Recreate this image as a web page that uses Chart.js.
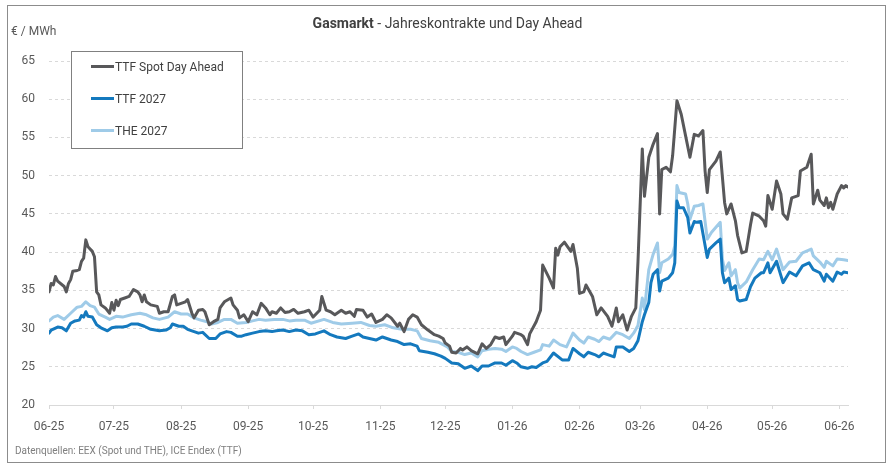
<!DOCTYPE html>
<html lang="de">
<head>
<meta charset="utf-8">
<title>Gasmarkt - Jahreskontrakte und Day Ahead</title>
<script src="https://cdn.jsdelivr.net/npm/chart.js@4.4.1/dist/chart.umd.min.js"></script>
<style>
    html, body { margin: 0; padding: 0; background: #fff; }
    body { width: 889px; height: 466px; position: relative; overflow: hidden; font-family: Roboto, "Noto Sans", sans-serif; }
    #chartWrap { position: absolute; left: 0; top: 0; width: 889px; height: 466px; }
    .frame { position: absolute; left: 7px; top: 5px; width: 877px; height: 456px; border: 1px solid #8c8c8c; pointer-events: none; }
    .title { position: absolute; left: 3px; width: 889px; top: 15px; text-align: center; font-size: 14px; color: #404040; }
    .title b { font-weight: 700; }
    .unit { position: absolute; left: 11px; top: 24px; font-size: 12px; color: #595959; }
    .legend { position: absolute; left: 71px; top: 51px; width: 170px; height: 96px; border: 1px solid #808080; background: #fff; }
    .legend .item { position: absolute; left: 19px; font-size: 12px; color: #404040; white-space: nowrap; line-height: 14px; }
    .legend .swatch { display: inline-block; width: 23px; height: 3px; vertical-align: middle; margin-right: 1px; position: relative; top: -1px; }
    .source { position: absolute; left: 15px; top: 445px; font-size: 10px; color: #7f7f7f; white-space: nowrap; }
</style>
</head>
<body>
<div id="chartWrap"><canvas id="gasChart" width="889" height="466"></canvas></div>
<div class="frame"></div>
<div class="title"><b>Gasmarkt</b> - Jahreskontrakte und Day Ahead</div>
<div class="unit">€ / MWh</div>
<div class="legend" id="legend"></div>
<div class="source">Datenquellen: EEX (Spot und THE), ICE Endex (TTF)</div>

<script>
// Gasmarkt chart: TTF Spot Day Ahead, TTF 2027, THE 2027
// x values are days since 2025-06-01

const tickDays = [0, 30, 61, 92, 122, 153, 183, 214, 245, 273, 304, 334, 365];
const tickLabels = ['06-25', '07-25', '08-25', '09-25', '10-25', '11-25', '12-25',
    '01-26', '02-26', '03-26', '04-26', '05-26', '06-26'];

const seriesNames = ['TTF Spot Day Ahead', 'TTF 2027', 'THE 2027'];
const seriesColors = ['#58585a', '#1479be', '#9fcbe8'];

const spotDays = [
    0, 1, 2, 3, 4, 7, 8, 9, 10, 11,
    13, 14, 15, 16, 17, 18, 20, 21, 22, 23,
    24, 26, 28, 29, 30, 31, 32, 33, 35, 37,
    39, 41, 42, 43, 44, 45, 47, 50, 51, 53,
    55, 57, 58, 59, 61, 63, 64, 66, 67, 69,
    71, 72, 74, 76, 78, 79, 81, 84, 85, 87,
    88, 90, 92, 94, 96, 98, 100, 102, 103, 105,
    107, 109, 111, 113, 115, 118, 120, 122, 125, 126,
    128, 130, 132, 135, 137, 139, 141, 142, 145, 147,
    149, 151, 154, 156, 158, 161, 162, 164, 166, 168,
    170, 172, 175, 178, 180, 182, 183, 185, 186, 188,
    190, 191, 193, 195, 198, 200, 202, 204, 206, 208,
    210, 211, 214, 215, 218, 219, 221, 222, 225, 227,
    228, 231, 233, 234, 235, 236, 238, 241, 242, 244,
    245, 247, 248, 251, 253, 255, 258, 260, 262, 263,
    265, 267, 269, 271, 272, 274, 275, 277, 279, 281,
    282, 283, 285, 287, 288, 290, 292, 294, 296, 298,
    300, 302, 303, 304, 305, 308, 310, 312, 313, 315,
    317, 318, 320, 322, 324, 325, 328, 330, 331, 332,
    334, 336, 338, 339, 341, 343, 346, 347, 350, 352,
    353, 355, 356, 358, 359, 360, 361, 362, 364, 366,
    367, 368, 369
];
const spotValues = [
    34.8, 35.9, 35.7, 36.8, 36.2, 35.5, 34.8, 35.9, 36.4, 37.5,
    37.6, 37.7, 38.8, 39.2, 41.6, 40.7, 40.1, 39.4, 34.8, 34.4,
    33.1, 32.7, 32.0, 33.4, 32.4, 33.7, 33.0, 33.8, 34.0, 34.2,
    35.1, 34.8, 34.4, 33.5, 34.4, 33.5, 33.1, 32.9, 32.0, 32.2,
    32.2, 34.2, 34.4, 33.1, 33.3, 33.5, 33.8, 32.0, 31.4, 32.4,
    32.5, 32.2, 30.5, 30.9, 31.2, 32.7, 33.5, 34.0, 33.1, 32.4,
    31.4, 31.8, 30.9, 32.2, 31.8, 33.3, 32.7, 31.8, 32.2, 32.0,
    32.7, 32.1, 32.2, 32.5, 32.0, 32.2, 32.4, 31.5, 32.4, 34.2,
    32.4, 32.2, 31.8, 32.4, 32.0, 32.2, 31.6, 32.5, 32.4, 31.5,
    31.9, 30.8, 31.2, 31.8, 31.4, 30.3, 30.7, 29.6, 31.2, 31.8,
    31.5, 30.5, 29.8, 29.2, 29.0, 28.7, 28.1, 27.7, 26.9, 26.8,
    27.4, 27.2, 27.6, 27.1, 26.7, 28.0, 27.4, 27.9, 28.9, 28.7,
    28.9, 27.9, 29.0, 29.5, 29.2, 29.0, 27.9, 29.3, 30.9, 32.4,
    38.3, 36.6, 35.3, 40.5, 39.6, 40.7, 41.3, 40.1, 41.0, 37.9,
    34.6, 34.8, 35.7, 34.2, 31.8, 32.7, 31.6, 30.3, 32.7, 30.9,
    31.8, 29.8, 31.6, 32.7, 38.7, 53.5, 47.3, 52.4, 54.1, 55.5,
    45.0, 50.8, 51.1, 50.5, 52.6, 59.8, 58.0, 55.2, 52.4, 55.4,
    55.2, 55.9, 50.6, 47.8, 50.8, 51.9, 53.1, 46.5, 45.0, 46.3,
    44.1, 42.2, 39.9, 40.1, 43.6, 45.1, 44.7, 44.1, 43.4, 47.4,
    45.6, 49.3, 47.6, 45.0, 44.3, 47.1, 47.4, 50.6, 51.1, 52.8,
    46.3, 48.1, 46.8, 46.1, 47.1, 45.8, 46.5, 45.6, 47.6, 48.7,
    48.4, 48.7, 48.5
];

const ttfDays = [
    0, 1, 4, 6, 8, 10, 12, 14, 15, 16,
    17, 18, 20, 22, 24, 27, 29, 31, 34, 36,
    38, 41, 44, 47, 51, 54, 56, 57, 60, 62,
    64, 67, 69, 71, 74, 77, 79, 82, 84, 87,
    89, 91, 94, 97, 100, 103, 105, 108, 111, 114,
    117, 120, 123, 127, 130, 133, 137, 140, 143, 145,
    148, 151, 154, 158, 161, 164, 167, 170, 171, 175,
    178, 181, 183, 186, 189, 192, 195, 198, 200, 203,
    206, 209, 211, 214, 216, 218, 221, 223, 225, 228,
    230, 233, 237, 240, 242, 245, 247, 249, 252, 254,
    256, 258, 261, 262, 265, 268, 270, 272, 274, 275,
    277, 278, 279, 281, 282, 283, 286, 288, 289, 290,
    291, 293, 295, 296, 298, 299, 301, 304, 305, 308,
    310, 311, 312, 314, 315, 317, 318, 319, 322, 324,
    326, 329, 330, 332, 333, 336, 339, 342, 345, 348,
    351, 353, 356, 358, 359, 362, 364, 366, 367, 369
];
const ttfValues = [
    29.4, 29.8, 30.2, 30.1, 29.7, 30.7, 31.0, 31.1, 31.7, 31.5,
    32.2, 31.6, 31.5, 30.5, 30.1, 29.7, 30.1, 30.2, 30.2, 30.3,
    30.6, 30.6, 30.3, 29.9, 29.7, 29.8, 30.1, 30.6, 30.3, 30.3,
    29.9, 29.6, 29.4, 29.5, 28.7, 28.7, 29.3, 29.6, 29.5, 29.0,
    29.0, 29.2, 29.4, 29.6, 29.7, 29.6, 29.7, 29.8, 29.6, 29.8,
    29.7, 29.2, 29.3, 29.7, 29.2, 28.9, 28.7, 29.0, 29.3, 28.9,
    28.7, 28.5, 28.9, 28.5, 28.3, 27.9, 28.0, 27.7, 27.1, 26.9,
    26.7, 26.4, 26.1, 25.5, 25.4, 24.8, 25.1, 24.5, 25.1, 25.1,
    25.5, 25.5, 25.2, 25.8, 25.5, 25.0, 24.8, 25.0, 24.9, 25.5,
    25.7, 26.8, 25.9, 25.9, 27.4, 26.7, 26.3, 26.9, 26.6, 26.3,
    26.8, 26.6, 26.3, 27.6, 27.6, 27.0, 27.4, 28.4, 30.9, 31.8,
    33.4, 36.0, 37.1, 37.7, 34.9, 36.2, 36.6, 37.3, 38.6, 46.7,
    45.8, 45.8, 44.5, 42.5, 44.0, 43.9, 44.0, 39.3, 40.4, 41.2,
    41.7, 37.3, 36.0, 36.6, 35.1, 35.6, 33.8, 33.6, 33.8, 35.5,
    36.6, 37.3, 37.3, 38.6, 37.3, 38.8, 36.0, 37.4, 36.9, 38.2,
    38.6, 37.7, 37.3, 36.2, 37.1, 36.2, 37.4, 37.1, 37.4, 37.3
];

const theDays = [
    0, 2, 4, 7, 10, 13, 15, 17, 19, 21,
    23, 26, 28, 31, 34, 38, 42, 45, 48, 51,
    55, 58, 61, 64, 67, 70, 73, 75, 78, 81,
    84, 87, 91, 94, 97, 100, 104, 108, 111, 114,
    118, 121, 127, 131, 135, 140, 144, 148, 151, 155,
    159, 163, 167, 170, 172, 176, 180, 184, 186, 189,
    192, 195, 198, 200, 203, 206, 209, 211, 214, 216,
    218, 221, 224, 227, 228, 231, 233, 236, 239, 242,
    245, 247, 249, 252, 254, 256, 259, 262, 265, 268,
    270, 272, 274, 275, 277, 279, 281, 282, 283, 286,
    288, 289, 290, 291, 294, 295, 296, 298, 300, 302,
    304, 306, 310, 311, 312, 314, 315, 317, 318, 319,
    322, 325, 328, 330, 332, 334, 336, 339, 342, 345,
    348, 352, 353, 356, 358, 359, 362, 364, 367, 369
];
const theValues = [
    31.0, 31.5, 31.7, 31.2, 32.0, 32.8, 32.9, 33.5, 33.0, 32.8,
    31.9, 31.5, 31.2, 31.6, 31.5, 31.8, 32.0, 31.8, 31.4, 31.2,
    31.5, 32.2, 31.9, 31.9, 31.4, 31.1, 30.9, 30.6, 30.8, 31.2,
    31.2, 30.7, 30.8, 31.0, 31.2, 31.1, 31.2, 31.2, 31.0, 31.1,
    31.1, 30.7, 31.2, 30.8, 30.6, 30.7, 30.8, 30.4, 30.3, 30.5,
    30.1, 29.9, 29.9, 29.7, 28.7, 28.4, 28.2, 27.6, 27.0, 26.9,
    26.6, 26.8, 26.3, 27.1, 27.3, 27.4, 27.3, 27.0, 27.6, 27.4,
    27.0, 26.6, 26.9, 27.2, 27.9, 27.7, 28.5, 27.9, 27.6, 29.4,
    28.5, 28.1, 28.9, 28.6, 28.3, 28.9, 28.6, 29.5, 29.2, 28.7,
    29.4, 30.4, 34.0, 32.5, 37.7, 39.7, 41.2, 37.3, 38.6, 39.1,
    39.7, 40.8, 48.7, 47.8, 47.6, 46.3, 44.3, 46.0, 46.1, 46.3,
    41.7, 42.6, 43.9, 39.1, 37.6, 38.6, 36.9, 37.7, 36.0, 35.3,
    36.1, 37.7, 39.1, 39.0, 40.1, 39.0, 40.4, 37.7, 38.7, 38.8,
    39.9, 40.4, 39.5, 38.7, 38.0, 38.8, 38.2, 39.1, 39.0, 38.9
];

// Build {x, y} points for a linear x axis
function toPoints(days, values) {
    return days.map((d, i) => ({ x: d, y: values[i] }));
}

function lineDataset(index, days, values) {
    return {
        label: seriesNames[index],
        data: toPoints(days, values),
        borderColor: seriesColors[index],
        backgroundColor: seriesColors[index],
        borderWidth: 3,
        pointRadius: 0,
        tension: 0,
        borderJoinStyle: 'round',
        borderCapStyle: 'round'
    };
}

// Legend drawn as html inside the plot area
function buildLegend() {
    const legend = document.getElementById('legend');
    const rowTops = [8, 40, 72];
    seriesNames.forEach((name, i) => {
        const item = document.createElement('div');
        item.className = 'item';
        item.style.top = rowTops[i] + 'px';
        const swatch = document.createElement('span');
        swatch.className = 'swatch';
        swatch.style.background = seriesColors[i];
        item.appendChild(swatch);
        item.appendChild(document.createTextNode(name));
        legend.appendChild(item);
    });
}

const ctx = document.getElementById('gasChart').getContext('2d');
const gasChart = new Chart(ctx, {
    type: 'line',
    data: {
        datasets: [
            lineDataset(0, spotDays, spotValues),
            lineDataset(1, ttfDays, ttfValues),
            lineDataset(2, theDays, theValues)
        ]
    },
    options: {
        responsive: false,
        animation: false,
        devicePixelRatio: 1,
        layout: {
            padding: { left: 0, top: 61, right: 41, bottom: 30 }
        },
        plugins: {
            legend: { display: false },
            tooltip: { enabled: false }
        },
        scales: {
            x: {
                type: 'linear',
                min: 0,
                max: 369,
                afterBuildTicks: function(axis) {
                    axis.ticks = tickDays.map(d => ({ value: d }));
                },
                afterFit: function(axis) {
                    axis.height = 31;
                },
                grid: {
                    drawOnChartArea: false,
                    drawTicks: true,
                    tickLength: 4,
                    color: '#d9d9d9'
                },
                border: {
                    display: true,
                    color: '#d9d9d9',
                    width: 1
                },
                ticks: {
                    autoSkip: false,
                    maxRotation: 0,
                    padding: 11,
                    color: '#595959',
                    font: { family: 'Roboto', size: 12 },
                    callback: function(value, index) {
                        return tickLabels[index];
                    }
                }
            },
            y: {
                min: 20,
                max: 65,
                afterFit: function(axis) {
                    axis.width = 49;
                },
                grid: {
                    drawTicks: false,
                    color: '#d9d9d9',
                    lineWidth: 1
                },
                border: {
                    display: false,
                    dash: [3, 3]
                },
                ticks: {
                    stepSize: 5,
                    padding: 14,
                    color: '#595959',
                    font: { family: 'Roboto', size: 12 }
                }
            }
        }
    }
});

buildLegend();
</script>
</body>
</html>
